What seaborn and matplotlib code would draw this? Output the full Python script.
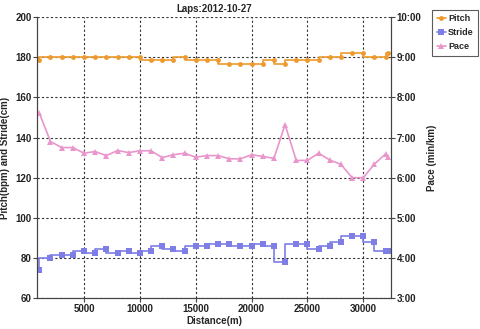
import matplotlib
matplotlib.use("Agg")
import matplotlib.pyplot as plt
from matplotlib.ticker import FuncFormatter, MultipleLocator
import seaborn as sns
import pandas as pd

# lap distances (m)
distance = [1000, 2000, 3000, 4000, 5000, 6000, 7000, 8000, 9000, 10000,
            11000, 12000, 13000, 14000, 15000, 16000, 17000, 18000, 19000, 20000,
            21000, 22000, 23000, 24000, 25000, 26000, 27000, 28000, 29000, 30000,
            31000, 32000, 32200]

pitch = [178.5, 180, 180, 180, 180, 180, 180, 180, 180, 180,
         178.5, 178.5, 178.5, 180, 178.5, 178.5, 178.5, 176.5, 176.5, 176.5,
         176.5, 178.5, 176.5, 178.5, 178.5, 178.5, 180, 180, 182.2, 182.2,
         180, 180, 182.2]

stride = [74, 80, 81.7, 81.7, 83.7, 82.7, 84.6, 82.7, 83.7, 82.7,
          83.7, 85.7, 84.6, 83.7, 85.7, 85.7, 86.7, 86.7, 85.7, 85.7,
          86.7, 85.7, 78, 86.7, 86.7, 84.6, 85.7, 88, 91, 91,
          87.8, 83.7, 83.7]

# pace in minutes per km
pace = [7.61, 6.9, 6.75, 6.75, 6.61, 6.65, 6.55, 6.675, 6.625, 6.67,
        6.67, 6.5, 6.57, 6.61, 6.51, 6.55, 6.55, 6.47, 6.47, 6.57,
        6.53, 6.48, 7.32, 6.43, 6.43, 6.61, 6.44, 6.33, 6.0, 6.0,
        6.34, 6.59, 6.51]

df = pd.DataFrame({"distance": distance, "pitch": pitch,
                   "stride": stride, "pace": pace})

c_pitch = "#EE9A2E"
c_stride = "#7E7EE6"
c_pace = "#E896CC"

sns.set_style("white")
plt.rcParams["font.family"] = ["Liberation Sans", "DejaVu Sans"]
plt.rcParams["font.weight"] = "bold"

fig = plt.figure(figsize=(4.8, 3.29), dpi=100)
ax = fig.add_axes([0.077, 0.094, 0.738, 0.854])
ax2 = ax.twinx()

sns.lineplot(data=df, x="distance", y="pitch", ax=ax, color=c_pitch,
             drawstyle="steps-pre", marker="o", markersize=3.5,
             markeredgewidth=0, linewidth=1.2, label="Pitch", legend=False)
sns.lineplot(data=df, x="distance", y="stride", ax=ax, color=c_stride,
             drawstyle="steps-pre", marker="s", markersize=4,
             markeredgewidth=0, linewidth=1.2, label="Stride", legend=False)
sns.lineplot(data=df, x="distance", y="pace", ax=ax2, color=c_pace,
             marker="^", markersize=4, markeredgewidth=0, linewidth=1.2,
             label="Pace", legend=False)

ax.set_xlim(790, 32500)
ax.set_ylim(60, 200)
ax2.set_ylim(3, 10)
ax.xaxis.set_major_locator(MultipleLocator(5000))
ax.yaxis.set_major_locator(MultipleLocator(20))
ax2.yaxis.set_major_locator(MultipleLocator(1))
ax2.yaxis.set_major_formatter(FuncFormatter(lambda v, p: "%d:00" % round(v)))

ax.grid(True, color="#333333", linestyle=(0, (2, 2)), linewidth=0.8)
for a in (ax, ax2):
    a.spines["top"].set_visible(False)
    a.spines["left"].set_color("#444444")
    a.spines["right"].set_color("#444444")
    a.spines["bottom"].set_color("#444444")
    a.tick_params(labelsize=7, length=3, width=0.8, color="#444444",
                  labelcolor="#222222", pad=1)

ax.tick_params(axis="both", left=True, bottom=True)
ax2.tick_params(axis="y", right=True)

ax.set_xlabel("Distance(m)", fontsize=7, fontweight="bold", labelpad=2)
ax.set_ylabel("Pitch(bpm) and Stride(cm)", fontsize=7, fontweight="bold", labelpad=4)
ax2.set_ylabel("Pace (min/km)", fontsize=7, fontweight="bold", labelpad=4)
ax.set_title("Laps:2012-10-27", fontsize=7, fontweight="bold", pad=4)

# one legend for both axes, outside on the right
handles = ax.get_lines()[:2] + ax2.get_lines()[:1]
leg = fig.legend(handles, ["Pitch", "Stride", "Pace"], loc="upper left",
                 bbox_to_anchor=(0.9, 0.97), fontsize=6.5, frameon=True,
                 fancybox=False, handlelength=1.0, handletextpad=0.3,
                 borderpad=0.5, labelspacing=0.55, borderaxespad=0)
leg.get_frame().set_edgecolor("#333333")
leg.get_frame().set_linewidth(0.8)

fig.savefig("out.png", dpi=100)
